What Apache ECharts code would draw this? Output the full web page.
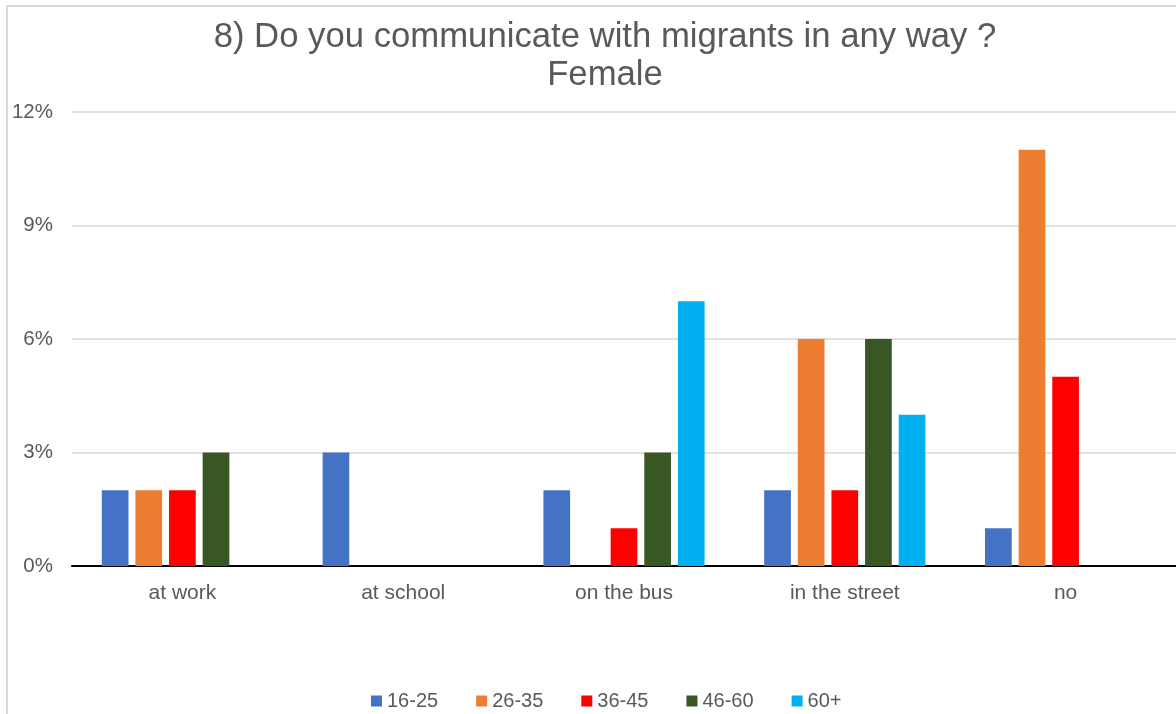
<!DOCTYPE html>
<html>
<head>
<meta charset="utf-8">
<script src="https://cdn.jsdelivr.net/npm/echarts@6/dist/echarts.min.js"></script>
<style>
html,body{margin:0;padding:0;background:#fff;overflow:hidden;}
#chart{width:1176px;height:714px;}
</style>
</head>
<body>
<div id="chart"></div>
<script>
const categories = ['at work', 'at school', 'on the bus', 'in the street', 'no'];
const seriesNames = ['16-25', '26-35', '36-45', '46-60', '60+'];
const age16_25 = [2, 3, 2, 2, 1];
const age26_35 = [2, 0, 0, 6, 11];
const age36_45 = [2, 0, 1, 2, 5];
const age46_60 = [3, 0, 3, 6, 0];
const age60plus = [0, 0, 7, 4, 0];
const colors = ['#4472C4', '#ED7D31', '#FF0000', '#385723', '#00B0F0'];
const yTicks = [0, 3, 6, 9, 12];

const font = '"Liberation Sans", Arial, sans-serif';
const allData = [age16_25, age26_35, age36_45, age46_60, age60plus];

const chart = echarts.init(document.getElementById('chart'), null, {renderer: 'canvas'});
chart.setOption({
  animation: false,
  backgroundColor: '#fff',
  title: {
    text: '8) Do you communicate with migrants in any way ?\nFemale',
    left: 600,
    top: 13,
    textAlign: 'center',
    textStyle: {
      fontFamily: font,
      fontSize: 34.7,
      fontWeight: 'normal',
      color: '#595959',
      lineHeight: 38
    }
  },
  graphic: [{
    type: 'rect',
    shape: {x: 7, y: 6, width: 1300, height: 900},
    style: {fill: 'none', stroke: '#d9d9d9', lineWidth: 2},
    silent: true
  }],
  legend: {
    data: seriesNames,
    left: 366,
    top: 686,
    icon: 'rect',
    itemWidth: 11,
    itemHeight: 11,
    itemGap: 38,
    textStyle: {fontFamily: font, fontSize: 20, color: '#595959'}
  },
  grid: {left: 72, right: -11, top: 112, bottom: 148, containLabel: false},
  xAxis: {
    type: 'category',
    data: categories,
    axisTick: {show: false},
    axisLine: {show: true, lineStyle: {color: '#000', width: 2}},
    axisLabel: {fontFamily: font, fontSize: 21, color: '#595959', margin: 17}
  },
  yAxis: {
    type: 'value',
    min: yTicks[0],
    max: yTicks[yTicks.length - 1],
    interval: 3,
    axisLine: {show: false},
    axisTick: {show: false},
    splitLine: {lineStyle: {color: '#d9d9d9', width: 1.5}},
    axisLabel: {fontFamily: font, fontSize: 20.5, color: '#595959', margin: 19, formatter: '{value}%'}
  },
  series: seriesNames.map((name, i) => ({
    name: name,
    type: 'bar',
    data: allData[i],
    itemStyle: {color: colors[i]},
    barGap: '26%',
    barCategoryGap: '27%'
  }))
});
</script>
</body>
</html>
